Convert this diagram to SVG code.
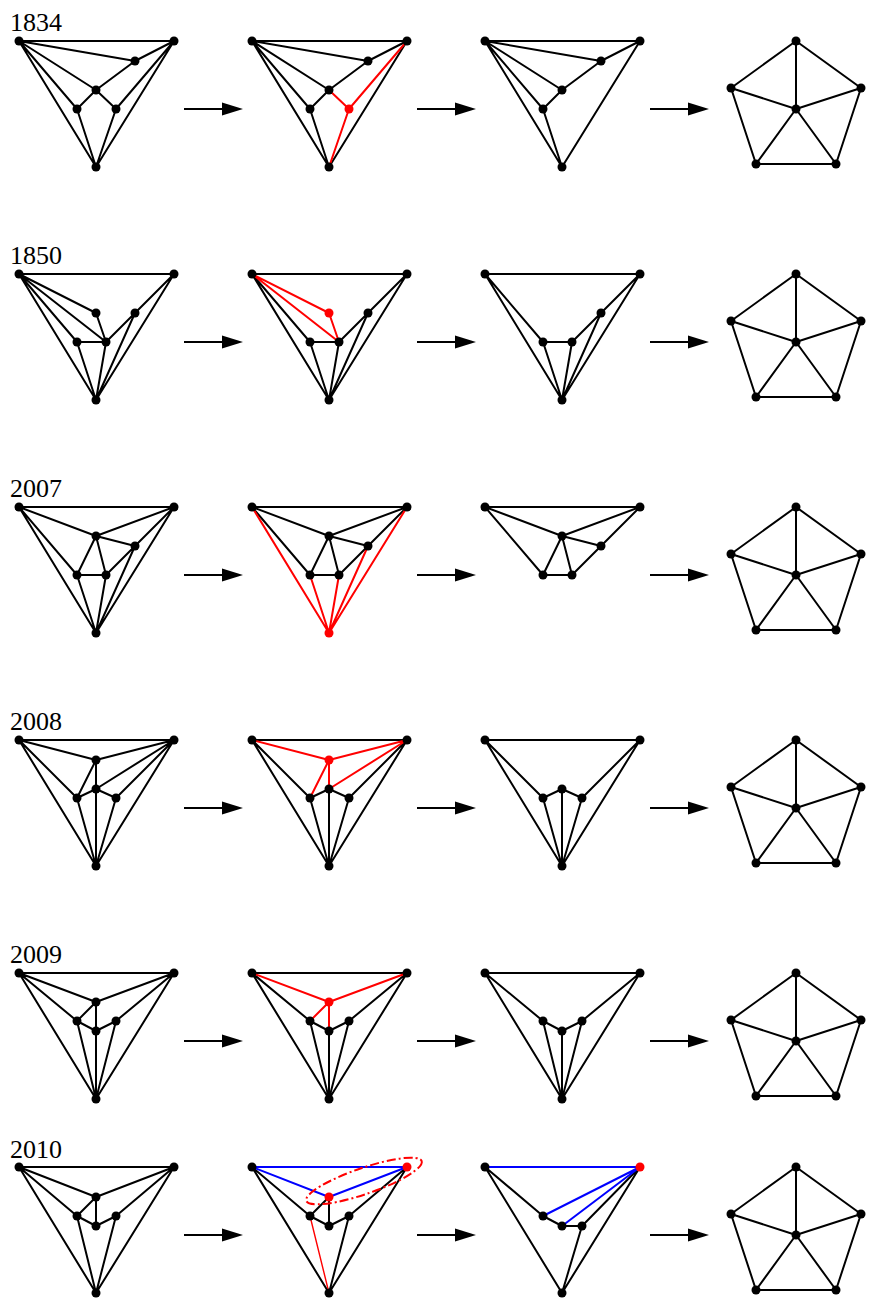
<svg xmlns="http://www.w3.org/2000/svg" xmlns:xlink="http://www.w3.org/1999/xlink" width="873" height="1309" viewBox="0 0 873 1309">
<style>
.e{fill:none;stroke:#000;stroke-width:2;stroke-linecap:round}
.er{fill:none;stroke:#f00;stroke-width:2;stroke-linecap:round}
.et{fill:none;stroke:#f00;stroke-width:1.4;stroke-linecap:round}
.eb{fill:none;stroke:#00f;stroke-width:2;stroke-linecap:round}
.n circle{fill:#000}
circle.r{fill:#f00}
.lbl{font-family:"Liberation Serif",serif;font-size:26px;fill:#000}
</style>
<defs>
<g id="pent">
<path class="e" d="M0 0L-65 47M0 0L65 47M0 0L0 68M-65 47L0 68M65 47L0 68M-65 47L-40 123M65 47L40 123M-40 123L40 123M-40 123L0 68M40 123L0 68"/>
<g class="n"><circle cx="0" cy="0" r="4.5"/><circle cx="-65" cy="47" r="4.5"/><circle cx="65" cy="47" r="4.5"/><circle cx="0" cy="68" r="4.5"/><circle cx="-40" cy="123" r="4.5"/><circle cx="40" cy="123" r="4.5"/></g>
</g>
<g id="arrow">
<path d="M0 0H40" stroke="#000" stroke-width="2"/>
<path d="M59 0L38 -6.5L38 6.5Z" fill="#000"/>
</g>
</defs>
<rect width="873" height="1309" fill="#fff"/>

<g id="labels">
<text class="lbl" x="10" y="31">1834</text>
<text class="lbl" x="10" y="264">1850</text>
<text class="lbl" x="10" y="497">2007</text>
<text class="lbl" x="10" y="730">2008</text>
<text class="lbl" x="10" y="963">2009</text>
<text class="lbl" x="10" y="1158">2010</text>
</g>

<g id="connectors">
<use href="#arrow" x="184" y="109"/><use href="#arrow" x="417" y="109"/><use href="#arrow" x="650" y="109"/>
<use href="#arrow" x="184" y="342"/><use href="#arrow" x="417" y="342"/><use href="#arrow" x="650" y="342"/>
<use href="#arrow" x="184" y="575"/><use href="#arrow" x="417" y="575"/><use href="#arrow" x="650" y="575"/>
<use href="#arrow" x="184" y="808"/><use href="#arrow" x="417" y="808"/><use href="#arrow" x="650" y="808"/>
<use href="#arrow" x="184" y="1041"/><use href="#arrow" x="417" y="1041"/><use href="#arrow" x="650" y="1041"/>
<use href="#arrow" x="184" y="1235"/><use href="#arrow" x="417" y="1235"/><use href="#arrow" x="650" y="1235"/>
</g>

<!-- Row 1 -->
<g id="r1g1">
<path class="e" d="M19 41L174 41M19 41L135 61M135 61L174 41M19 41L96 90M96 90L135 61M19 41L77 109M19 41L96 167M96 90L77 109M96 90L116 109M77 109L96 167M116 109L96 167M116 109L174 41M174 41L96 167"/>
<g class="n"><circle cx="19" cy="41" r="4.5"/><circle cx="174" cy="41" r="4.5"/><circle cx="96" cy="167" r="4.5"/><circle cx="135" cy="61" r="4.5"/><circle cx="96" cy="90" r="4.5"/><circle cx="77" cy="109" r="4.5"/><circle cx="116" cy="109" r="4.5"/></g>
</g>
<g id="r1g2">
<path class="e" d="M252 41L407 41M252 41L368 61M368 61L407 41M252 41L329 90M329 90L368 61M252 41L310 109M252 41L329 167M329 90L310 109M310 109L329 167M407 41L329 167"/>
<path class="er" d="M329 90L349 109M349 109L329 167M349 109L407 41"/>
<g class="n"><circle cx="252" cy="41" r="4.5"/><circle cx="407" cy="41" r="4.5"/><circle cx="329" cy="167" r="4.5"/><circle cx="368" cy="61" r="4.5"/><circle cx="329" cy="90" r="4.5"/><circle cx="310" cy="109" r="4.5"/><circle class="r" cx="349" cy="109" r="4.5"/></g>
</g>
<g id="r1g3">
<path class="e" d="M485 41L640 41M485 41L601 61M601 61L640 41M485 41L562 90M562 90L601 61M562 90L543 109M485 41L543 109M485 41L562 167M543 109L562 167M640 41L562 167"/>
<g class="n"><circle cx="485" cy="41" r="4.5"/><circle cx="640" cy="41" r="4.5"/><circle cx="562" cy="167" r="4.5"/><circle cx="601" cy="61" r="4.5"/><circle cx="562" cy="90" r="4.5"/><circle cx="543" cy="109" r="4.5"/></g>
</g>
<g id="r1g4"><use href="#pent" x="796" y="41"/></g>

<!-- Row 2 -->
<g id="r2g1">
<path class="e" d="M19 274L174 274M19 274L96 313M19 274L106 342M19 274L77 342M19 274L96 400M96 313L106 342M77 342L106 342M106 342L135 313M135 313L174 274M174 274L96 400M135 313L96 400M106 342L96 400M77 342L96 400"/>
<g class="n"><circle cx="19" cy="274" r="4.5"/><circle cx="174" cy="274" r="4.5"/><circle cx="96" cy="400" r="4.5"/><circle cx="96" cy="313" r="4.5"/><circle cx="135" cy="313" r="4.5"/><circle cx="77" cy="342" r="4.5"/><circle cx="106" cy="342" r="4.5"/></g>
</g>
<g id="r2g2">
<path class="e" d="M252 274L407 274M252 274L310 342M252 274L329 400M310 342L339 342M339 342L368 313M368 313L407 274M407 274L329 400M368 313L329 400M339 342L329 400M310 342L329 400"/>
<path class="er" d="M252 274L329 313M252 274L339 342M329 313L339 342"/>
<g class="n"><circle cx="252" cy="274" r="4.5"/><circle cx="407" cy="274" r="4.5"/><circle cx="329" cy="400" r="4.5"/><circle class="r" cx="329" cy="313" r="4.5"/><circle cx="368" cy="313" r="4.5"/><circle cx="310" cy="342" r="4.5"/><circle cx="339" cy="342" r="4.5"/></g>
</g>
<g id="r2g3">
<path class="e" d="M485 274L640 274M485 274L543 342M485 274L562 400M543 342L572 342M572 342L601 313M601 313L640 274M640 274L562 400M601 313L562 400M572 342L562 400M543 342L562 400"/>
<g class="n"><circle cx="485" cy="274" r="4.5"/><circle cx="640" cy="274" r="4.5"/><circle cx="562" cy="400" r="4.5"/><circle cx="601" cy="313" r="4.5"/><circle cx="543" cy="342" r="4.5"/><circle cx="572" cy="342" r="4.5"/></g>
</g>
<g id="r2g4"><use href="#pent" x="796" y="274"/></g>

<!-- Row 3 -->
<g id="r3g1">
<path class="e" d="M19 507L174 507M19 507L96 536M96 536L174 507M96 536L135 546M19 507L77 575M19 507L96 633M96 536L77 575M96 536L106 575M77 575L106 575M106 575L135 546M135 546L174 507M174 507L96 633M135 546L96 633M106 575L96 633M77 575L96 633"/>
<g class="n"><circle cx="19" cy="507" r="4.5"/><circle cx="174" cy="507" r="4.5"/><circle cx="96" cy="633" r="4.5"/><circle cx="96" cy="536" r="4.5"/><circle cx="135" cy="546" r="4.5"/><circle cx="77" cy="575" r="4.5"/><circle cx="106" cy="575" r="4.5"/></g>
</g>
<g id="r3g2">
<path class="e" d="M252 507L407 507M252 507L329 536M329 536L407 507M329 536L368 546M252 507L310 575M329 536L310 575M329 536L339 575M310 575L339 575M339 575L368 546M368 546L407 507"/>
<path class="er" d="M252 507L329 633M310 575L329 633M339 575L329 633M368 546L329 633M407 507L329 633"/>
<g class="n"><circle cx="252" cy="507" r="4.5"/><circle cx="407" cy="507" r="4.5"/><circle class="r" cx="329" cy="633" r="4.5"/><circle cx="329" cy="536" r="4.5"/><circle cx="368" cy="546" r="4.5"/><circle cx="310" cy="575" r="4.5"/><circle cx="339" cy="575" r="4.5"/></g>
</g>
<g id="r3g3">
<path class="e" d="M485 507L640 507M485 507L562 536M562 536L640 507M562 536L601 546M485 507L543 575M562 536L543 575M562 536L572 575M543 575L572 575M572 575L601 546M601 546L640 507"/>
<g class="n"><circle cx="485" cy="507" r="4.5"/><circle cx="640" cy="507" r="4.5"/><circle cx="562" cy="536" r="4.5"/><circle cx="601" cy="546" r="4.5"/><circle cx="543" cy="575" r="4.5"/><circle cx="572" cy="575" r="4.5"/></g>
</g>
<g id="r3g4"><use href="#pent" x="796" y="507"/></g>

<!-- Row 4 -->
<g id="r4g1">
<path class="e" d="M19 740L174 740M19 740L96 760M96 760L174 740M96 760L77 798M96 760L96 789M96 789L174 740M96 789L77 798M96 789L116 798M116 798L174 740M19 740L77 798M19 740L96 866M77 798L96 866M96 789L96 866M116 798L96 866M174 740L96 866"/>
<g class="n"><circle cx="19" cy="740" r="4.5"/><circle cx="174" cy="740" r="4.5"/><circle cx="96" cy="866" r="4.5"/><circle cx="96" cy="760" r="4.5"/><circle cx="96" cy="789" r="4.5"/><circle cx="77" cy="798" r="4.5"/><circle cx="116" cy="798" r="4.5"/></g>
</g>
<g id="r4g2">
<path class="e" d="M252 740L407 740M329 789L310 798M329 789L349 798M349 798L407 740M252 740L310 798M252 740L329 866M310 798L329 866M329 789L329 866M349 798L329 866M407 740L329 866"/>
<path class="er" d="M252 740L329 760M329 760L407 740M329 760L310 798M329 760L329 789M329 789L407 740"/>
<g class="n"><circle cx="252" cy="740" r="4.5"/><circle cx="407" cy="740" r="4.5"/><circle cx="329" cy="866" r="4.5"/><circle class="r" cx="329" cy="760" r="4.5"/><circle cx="329" cy="789" r="4.5"/><circle cx="310" cy="798" r="4.5"/><circle cx="349" cy="798" r="4.5"/></g>
</g>
<g id="r4g3">
<path class="e" d="M485 740L640 740M485 740L543 798M485 740L562 866M543 798L562 789M562 789L582 798M582 798L640 740M640 740L562 866M543 798L562 866M562 789L562 866M582 798L562 866"/>
<g class="n"><circle cx="485" cy="740" r="4.5"/><circle cx="640" cy="740" r="4.5"/><circle cx="562" cy="866" r="4.5"/><circle cx="562" cy="789" r="4.5"/><circle cx="543" cy="798" r="4.5"/><circle cx="582" cy="798" r="4.5"/></g>
</g>
<g id="r4g4"><use href="#pent" x="796" y="740"/></g>

<!-- Row 5 -->
<g id="r5g1">
<path class="e" d="M19 973L174 973M19 973L96 1002M96 1002L174 973M96 1002L77 1021M96 1002L96 1031M19 973L77 1021M77 1021L96 1031M96 1031L116 1021M116 1021L174 973M19 973L96 1099M77 1021L96 1099M96 1031L96 1099M116 1021L96 1099M174 973L96 1099"/>
<g class="n"><circle cx="19" cy="973" r="4.5"/><circle cx="174" cy="973" r="4.5"/><circle cx="96" cy="1099" r="4.5"/><circle cx="96" cy="1002" r="4.5"/><circle cx="77" cy="1021" r="4.5"/><circle cx="116" cy="1021" r="4.5"/><circle cx="96" cy="1031" r="4.5"/></g>
</g>
<g id="r5g2">
<path class="e" d="M252 973L407 973M252 973L310 1021M310 1021L329 1031M329 1031L349 1021M349 1021L407 973M252 973L329 1099M310 1021L329 1099M329 1031L329 1099M349 1021L329 1099M407 973L329 1099"/>
<path class="er" d="M252 973L329 1002M329 1002L407 973M329 1002L310 1021M329 1002L329 1031"/>
<g class="n"><circle cx="252" cy="973" r="4.5"/><circle cx="407" cy="973" r="4.5"/><circle cx="329" cy="1099" r="4.5"/><circle class="r" cx="329" cy="1002" r="4.5"/><circle cx="310" cy="1021" r="4.5"/><circle cx="349" cy="1021" r="4.5"/><circle cx="329" cy="1031" r="4.5"/></g>
</g>
<g id="r5g3">
<path class="e" d="M485 973L640 973M485 973L543 1021M543 1021L562 1031M562 1031L582 1021M582 1021L640 973M485 973L562 1099M543 1021L562 1099M562 1031L562 1099M582 1021L562 1099M640 973L562 1099"/>
<g class="n"><circle cx="485" cy="973" r="4.5"/><circle cx="640" cy="973" r="4.5"/><circle cx="562" cy="1099" r="4.5"/><circle cx="543" cy="1021" r="4.5"/><circle cx="582" cy="1021" r="4.5"/><circle cx="562" cy="1031" r="4.5"/></g>
</g>
<g id="r5g4"><use href="#pent" x="796" y="973"/></g>

<!-- Row 6 -->
<g id="r6g1">
<path class="e" d="M19 1167L174 1167M19 1167L96 1197M96 1197L174 1167M96 1197L77 1216M96 1197L96 1226M19 1167L77 1216M77 1216L96 1226M96 1226L116 1216M116 1216L174 1167M19 1167L96 1293M77 1216L96 1293M116 1216L96 1293M174 1167L96 1293"/>
<g class="n"><circle cx="19" cy="1167" r="4.5"/><circle cx="174" cy="1167" r="4.5"/><circle cx="96" cy="1293" r="4.5"/><circle cx="96" cy="1197" r="4.5"/><circle cx="77" cy="1216" r="4.5"/><circle cx="116" cy="1216" r="4.5"/><circle cx="96" cy="1226" r="4.5"/></g>
</g>
<g id="r6g2">
<path class="e" d="M329 1197L310 1216M329 1197L329 1226M252 1167L310 1216M310 1216L329 1226M329 1226L349 1216M349 1216L407 1167M252 1167L329 1293M349 1216L329 1293M407 1167L329 1293"/>
<path class="eb" d="M252 1167L407 1167M252 1167L329 1197M329 1197L407 1167"/>
<path class="et" d="M310 1216L329 1293"/>
<ellipse cx="364" cy="1181" rx="61" ry="13" transform="rotate(-19 364 1181)" fill="none" stroke="#f00" stroke-width="2" stroke-dasharray="9 3 2 3"/>
<g class="n"><circle cx="252" cy="1167" r="4.5"/><circle class="r" cx="407" cy="1167" r="4.5"/><circle cx="329" cy="1293" r="4.5"/><circle class="r" cx="329" cy="1197" r="4.5"/><circle cx="310" cy="1216" r="4.5"/><circle cx="349" cy="1216" r="4.5"/><circle cx="329" cy="1226" r="4.5"/></g>
</g>
<g id="r6g3">
<path class="e" d="M485 1167L543 1216M543 1216L562 1226M562 1226L582 1226M582 1226L640 1167M485 1167L562 1293M582 1226L562 1293M640 1167L562 1293"/>
<path class="eb" d="M485 1167L640 1167M543 1216L640 1167M562 1226L640 1167"/>
<g class="n"><circle cx="485" cy="1167" r="4.5"/><circle class="r" cx="640" cy="1167" r="4.5"/><circle cx="562" cy="1293" r="4.5"/><circle cx="543" cy="1216" r="4.5"/><circle cx="562" cy="1226" r="4.5"/><circle cx="582" cy="1226" r="4.5"/></g>
</g>
<g id="r6g4"><use href="#pent" x="796" y="1167"/></g>
</svg>
